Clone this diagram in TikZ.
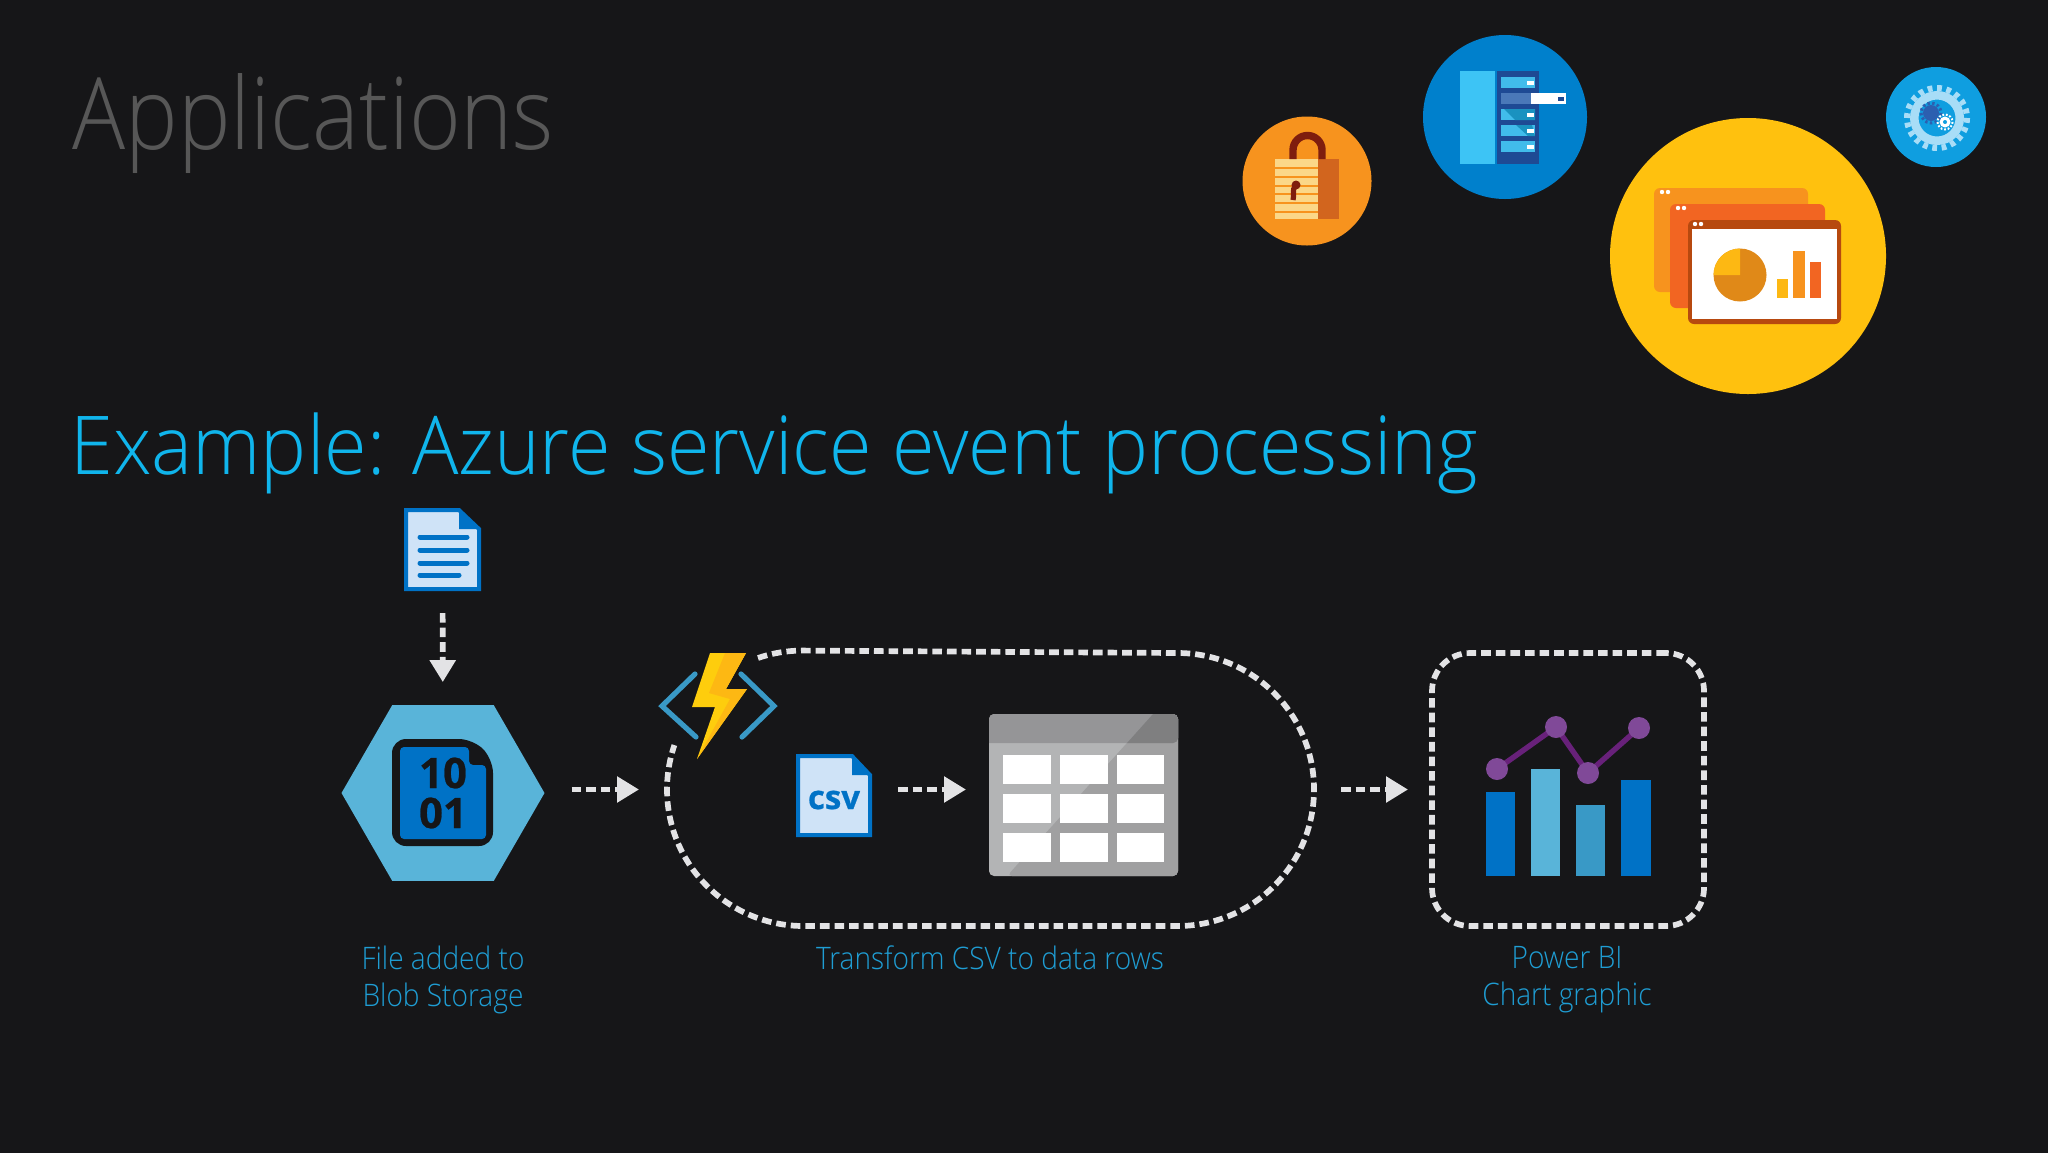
\documentclass[tikz,border=0pt]{standalone}
\usepackage{fontspec}
\setmainfont{Open Sans Light}[FakeStretch=0.905]
\newfontfamily\titlefont{Open Sans Light}[FakeStretch=0.884]
\newfontfamily\subfont{Open Sans Light}[FakeStretch=0.953]
\newfontfamily\iconfont{Open Sans}[BoldFeatures={FakeBold=0.6}]
\usetikzlibrary{shapes.geometric,arrows.meta}
\definecolor{slidebg}{HTML}{161618}
\definecolor{flowgrey}{HTML}{E3E3E5}
\definecolor{azlight}{HTML}{59B4D9}
\definecolor{azmid}{HTML}{3999C6}
\definecolor{azblue}{HTML}{0072C6}
\definecolor{azpale}{HTML}{CFE3F7}
\definecolor{sky}{HTML}{10B5EC}
\definecolor{labelblue}{HTML}{1F9DD3}
\definecolor{lockorange}{HTML}{F7931E}
\definecolor{lockdark}{HTML}{D2651E}
\definecolor{lockbody}{HTML}{FBD789}
\definecolor{lockred}{HTML}{7F1D0E}
\definecolor{rackblue}{HTML}{0080CC}
\definecolor{racklight}{HTML}{3DC4F5}
\definecolor{rackdark}{HTML}{1E4A94}
\definecolor{rackdrawer}{HTML}{41BCEB}
\definecolor{rackteal}{HTML}{1A92C0}
\definecolor{rackslate}{HTML}{4A78B8}
\definecolor{deckyellow}{HTML}{FFC10E}
\definecolor{deckmid}{HTML}{F26522}
\definecolor{deckdark}{HTML}{B7490F}
\definecolor{deckpie}{HTML}{E08918}
\definecolor{deckgold}{HTML}{FDB813}
\definecolor{gearblue}{HTML}{0F9EE0}
\definecolor{gearpale}{HTML}{A8DDF7}
\definecolor{geardark}{HTML}{2C5FB0}
\definecolor{linepurple}{HTML}{68217A}
\definecolor{dotpurple}{HTML}{804998}
\definecolor{tablelight}{HTML}{B3B4B5}
\definecolor{tablemid}{HTML}{A0A0A1}
\definecolor{tablehead}{HTML}{959597}
\definecolor{tabledark}{HTML}{7F7F80}
\tikzset{
	flow/.style={draw=flowgrey, line width=2.85pt, dash pattern=on 4.8pt off 2.5pt, -{Triangle[length=11pt,width=12.5pt,fill=flowgrey]}},
	loop line/.style={draw=flowgrey, line width=2.85pt, dash pattern=on 4.8pt off 2.5pt},
	slot/.style={inner sep=0pt, outer sep=0pt},
	caption/.style={text=labelblue, font=\fontsize{15.5}{18.5}\selectfont, align=center, inner sep=0pt},
	cell/.style={fill=white, draw=none},
	doc line/.style={azblue, line width=2.5pt, line cap=round},
	bracket/.style={azmid, line width=2.6pt, line cap=round},
	stripe/.style={lockorange, line width=0.6pt},
}
\begin{document}
\begin{tikzpicture}[x=0.5pt,y=-0.5pt]
	\useasboundingbox (0,0) rectangle (2048,1152);
	\fill [slidebg] (-6,-6) rectangle (2054,1158);

	\node [anchor=base west, text=black!66, font=\titlefont\fontsize{50}{60}\selectfont, inner sep=0pt] (title) at (72,149) {Applications};
	\node [anchor=base west, text=sky, font=\subfont\fontsize{40.6}{50}\selectfont, inner sep=0pt] (sub) at (70,474) {Example: Azure service event processing};

	\node [circle, fill=lockorange, minimum size=64.5pt, slot] (lock) at (1307,181) {};
	\fill [lockbody] (1275,159) rectangle (1318,219);
	\fill [lockdark] (1318,159) rectangle (1339,219);
	\draw [stripe] (1275,168) -- (1318,168);
	\draw [stripe] (1275,177) -- (1318,177);
	\draw [stripe] (1275,186) -- (1318,186);
	\draw [stripe] (1275,194) -- (1318,194);
	\draw [stripe] (1275,203) -- (1318,203);
	\draw [stripe] (1275,212) -- (1318,212);
	\draw [lockred, line width=3.7pt] (1293,159) -- (1293,150) arc[start angle=180,end angle=360,radius=14.5] -- (1322,159);
	\fill [lockred] (1296,185) circle[radius=4.5];
	\draw [lockred, line width=2.6pt] (1296,185) .. controls (1291,191) and (1295,194) .. (1293,200);

	\node [circle, fill=rackblue, minimum size=82pt, slot] (rack) at (1505,117) {};
	\fill [racklight] (1460,71) rectangle (1495,164);
	\fill [rackdark] (1497,71) rectangle (1539,164);
	\fill [rackdrawer] (1501,77) rectangle (1535,88);
	\fill [rackslate] (1501,93) rectangle (1535,104);
	\fill [rackdrawer] (1501,109) rectangle (1535,120);
	\fill [rackteal] (1504,109) -- (1535,109) -- (1535,120) -- (1515,120) -- cycle;
	\fill [rackdrawer] (1501,125) rectangle (1535,136);
	\fill [rackteal] (1516,125) -- (1532,125) -- (1535,136) -- (1528,136) -- cycle;
	\fill [rackdrawer] (1501,141) rectangle (1535,152);
	\fill [white] (1531,93) rectangle (1566,104);
	\fill [white] (1527,81) rectangle (1534,85);
	\fill [rackdark] (1558,97) rectangle (1564,101);
	\fill [white] (1527,113) rectangle (1534,117);
	\fill [white] (1527,129) rectangle (1534,133);
	\fill [white] (1527,145) rectangle (1534,149);

	\node [circle, fill=deckyellow, minimum size=138pt, slot] (deck) at (1748,256) {};
	\fill [lockorange, rounded corners=3pt] (1654,188) rectangle (1808,292);
	\fill [deckmid, rounded corners=3pt] (1670,204) rectangle (1825,308);
	\fill [deckdark, rounded corners=3pt] (1688,220) rectangle (1841,324);
	\fill [white] (1692,229) rectangle (1837,319);
	\fill [white] (1662,192) circle[radius=2.2];
	\fill [white] (1668,192) circle[radius=2.2];
	\fill [white] (1678,208) circle[radius=2.2];
	\fill [white] (1684,208) circle[radius=2.2];
	\fill [white] (1695,224) circle[radius=2.2];
	\fill [white] (1701,224) circle[radius=2.2];
	\fill [deckpie] (1740,275) circle[radius=26.5];
	\fill [deckgold] (1740,275) -- (1713.5,275) arc[start angle=180,end angle=270,radius=26.5] -- cycle;
	\fill [deckgold] (1777,279) rectangle (1788,298);
	\fill [lockorange] (1793,251) rectangle (1805,298);
	\fill [deckmid] (1810,262) rectangle (1821,298);

	\node [circle, fill=gearblue, minimum size=50pt, slot] (gear) at (1936,117) {};
	\draw [gearpale, line width=4.25pt] (1937,118) circle[radius=22.75];
	\draw [gearpale, line width=3pt, dash pattern=on 2.4pt off 2.31pt] (1937,118) circle[radius=30];
	\fill [geardark] (1931,113) circle[radius=8];
	\draw [geardark, line width=1.5pt, dash pattern=on 1.2pt off 1.2pt] (1931,113) circle[radius=10];
	\fill [white] (1945,122) circle[radius=5.5];
	\draw [white, line width=1pt, dash pattern=on 0.9pt off 0.9pt] (1945,122) circle[radius=7.5];
	\fill [gearblue] (1945,122) circle[radius=2];

	\node [slot, minimum width=38.5pt, minimum height=41.5pt] (doc) at (442.5,549.5) {};
	\fill [azpale, draw=azblue, line width=2pt] (406,510) -- (459,510) -- (479,529) -- (479,589) -- (406,589) -- cycle;
	\fill [azblue] (459,510) -- (479,529) -- (459,529) -- cycle;
	\draw [doc line] (420,537) -- (467,537);
	\draw [doc line] (420,550) -- (467,550);
	\draw [doc line] (420,563) -- (467,563);
	\draw [doc line] (420,575) -- (459,575);

	\node [regular polygon, regular polygon sides=6, fill=azlight, minimum size=101.5pt, slot] (blob) at (443,793) {};
	\fill [slidebg, rounded corners=7pt] (392,739) -- (473,739) -- (493,759) -- (493,846) -- (392,846) -- cycle;
	\fill [azblue, rounded corners=2pt] (400,747) -- (469,747) -- (469,765) -- (486,765) -- (486,839) -- (400,839) -- cycle;
	\node [text=slidebg, font=\iconfont\bfseries\fontsize{21}{20}\selectfont, align=center, slot] (bits) at (443,793) {10\\01};

	\node [slot, minimum width=323.5pt, minimum height=136.5pt] (pipe) at (990.5,789.5) {};
	\draw [loop line] (758,658) arc[start angle=-109,end angle=-90,radius=136.5] -- (1177.5,653) arc[start angle=-90,end angle=90,radius=136.5] -- (803.5,926) arc[start angle=90,end angle=199,radius=136.5];

	\fill [deckgold!70!yellow] (710,653) -- (746,653) -- (726,689) -- (747,689) -- (697,759) -- (715,707) -- (692,707) -- cycle;
	\fill [deckgold] (725,653) -- (746,653) -- (726,689) -- (747,689) -- (697,759) -- (730,699) -- (709,693) -- cycle;
	\draw [bracket] (695,674) -- (662,706) -- (696,737);
	\draw [bracket] (741,674) -- (774,706) -- (742,737);

	\node [slot, minimum width=38pt, minimum height=41.5pt] (csv) at (834,795.5) {};
	\fill [azpale, draw=azblue, line width=2pt] (798,756) -- (852,756) -- (870,775) -- (870,835) -- (798,835) -- cycle;
	\fill [azblue] (852,756) -- (870,775) -- (852,775) -- cycle;
	\node [text=azblue, font=\iconfont\bfseries\fontsize{16.5}{17}\selectfont, slot] (csvtext) at (834,800) {csv};

	\node [slot, minimum width=94.5pt, minimum height=81pt] (rows) at (1083.5,795) {};
	\fill [tablelight, rounded corners=2.5pt] (989,714) rectangle (1178,876);
	\fill [tablemid, rounded corners=2.5pt] (1178,876) -- (1007,876) -- (1153,714) -- (1178,714) -- cycle;
	\fill [tablehead, rounded corners=2.5pt] (989,743) -- (989,714) -- (1178,714) -- (1178,743) [sharp corners] -- cycle;
	\fill [tabledark, rounded corners=2.5pt] (1127,743) [sharp corners] -- (1153,714) [rounded corners=2.5pt] -- (1178,714) -- (1178,743) [sharp corners] -- cycle;
	\fill [cell] (1003,755) rectangle (1051,784);
	\fill [cell] (1060,755) rectangle (1108,784);
	\fill [cell] (1117,755) rectangle (1164,784);
	\fill [cell] (1003,794) rectangle (1051,823);
	\fill [cell] (1060,794) rectangle (1108,823);
	\fill [cell] (1117,794) rectangle (1164,823);
	\fill [cell] (1003,833) rectangle (1051,862);
	\fill [cell] (1060,833) rectangle (1108,862);
	\fill [cell] (1117,833) rectangle (1164,862);

	\node [draw=flowgrey, line width=2.85pt, dash pattern=on 4.8pt off 2.5pt, rounded corners=19pt, minimum width=136pt, minimum height=136.5pt, slot] (chart) at (1568,789.5) {};
	\fill [azblue] (1486,792) rectangle (1515,876);
	\fill [azlight] (1531,769) rectangle (1560,876);
	\fill [azmid] (1576,805) rectangle (1605,876);
	\fill [azblue] (1621,780) rectangle (1651,876);
	\draw [linepurple, line width=2.7pt] (1497,769) -- (1556,727) -- (1588,773) -- (1639,728);
	\fill [dotpurple] (1497,769) circle[radius=11];
	\fill [dotpurple] (1556,727) circle[radius=11];
	\fill [dotpurple] (1588,773) circle[radius=11];
	\fill [dotpurple] (1639,728) circle[radius=11];

	\draw [flow, shorten <=11pt, shorten >=11.5pt] (doc) -- (blob);
	\draw [flow, shorten <=13.5pt, shorten >=14pt] (blob.east |- pipe.west) -- (pipe.west);
	\draw [flow, shorten <=13pt, shorten >=11.5pt] (csv.east |- pipe.west) -- (rows.west |- pipe.west);
	\draw [flow, shorten <=13.5pt, shorten >=12pt] (pipe.east) -- (chart.west);

	\node [caption] (lblob) at (443,980) {File added to\\Blob Storage};
	\node [caption] (lpipe) at (990,958) {Transform CSV to data rows};
	\node [caption] (lchart) at (1567,980) {Power BI\\Chart graphic};
\end{tikzpicture}
\end{document}
